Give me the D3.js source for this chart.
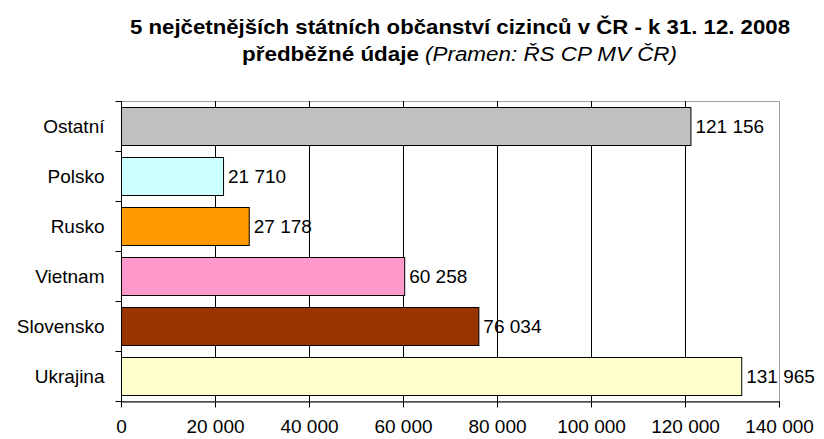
<!DOCTYPE html>
<html>
<head>
<meta charset="utf-8">
<script src="https://cdn.jsdelivr.net/npm/d3@7"></script>
<style>
  body { margin: 0; background: #fff; }
  svg text { font-family: "Liberation Sans", Arial, sans-serif; }
</style>
</head>
<body>
<div id="chart"></div>
<script>
// data, top to bottom as drawn
const categories = ["Ostatní", "Polsko", "Rusko", "Vietnam", "Slovensko", "Ukrajina"];
const values = [121156, 21710, 27178, 60258, 76034, 131965];
const colors = ["#c0c0c0", "#ccffff", "#ff9900", "#ff99cc", "#993300", "#ffffcc"];
const ticks = [0, 20000, 40000, 60000, 80000, 100000, 120000, 140000];

const data = categories.map((c, i) => ({ key: c, value: values[i], color: colors[i] }));

const width = 824, height = 439;
const margin = { top: 101, right: 45, bottom: 38, left: 121 };

const fmt = v => d3.format(",")(v).replace(/,/g, " ");

const svg = d3.select("#chart").append("svg")
    .attr("width", width)
    .attr("height", height);

const x = d3.scaleLinear()
    .domain([0, 140000])
    .range([margin.left, width - margin.right]);

const y = d3.scaleBand()
    .domain(categories)
    .range([margin.top, height - margin.bottom])
    .paddingInner(0.24)
    .paddingOuter(0.12);

// title (condensed bold, squeezed with textLength)
svg.append("text")
    .attr("x", 130).attr("y", 34)
    .attr("textLength", 660)
    .attr("lengthAdjust", "spacingAndGlyphs")
    .style("font-weight", "bold")
    .style("font-size", "21px")
    .text("5 nejčetnějších státních občanství cizinců v ČR - k 31. 12. 2008");
svg.append("text")
    .attr("x", 242).attr("y", 61)
    .attr("textLength", 177)
    .attr("lengthAdjust", "spacingAndGlyphs")
    .style("font-weight", "bold")
    .style("font-size", "21px")
    .text("předběžné údaje");
svg.append("text")
    .attr("x", 425).attr("y", 61)
    .attr("textLength", 252)
    .attr("lengthAdjust", "spacingAndGlyphs")
    .style("font-style", "italic")
    .style("font-size", "20px")
    .text("(Pramen: ŘS CP MV ČR)");

// plot border
svg.append("rect")
    .attr("x", margin.left + 0.5).attr("y", margin.top + 0.5)
    .attr("width", x(140000) - margin.left)
    .attr("height", height - margin.bottom - margin.top)
    .attr("fill", "none")
    .attr("stroke", "#a0a0a0");

// vertical gridlines
svg.append("g")
    .selectAll("line")
    .data(ticks.slice(1, -1))
    .enter()
    .append("line")
    .attr("x1", d => Math.round(x(d)) + 0.5)
    .attr("x2", d => Math.round(x(d)) + 0.5)
    .attr("y1", margin.top)
    .attr("y2", height - margin.bottom)
    .attr("stroke", "#000");

// bars
svg.append("g")
    .selectAll("rect")
    .data(data)
    .enter()
    .append("rect")
    .attr("x", x(0) + 0.5)
    .attr("y", d => Math.round(y(d.key)) + 0.5)
    .attr("width", d => x(d.value) - x(0))
    .attr("height", Math.round(y.bandwidth()))
    .attr("fill", d => d.color)
    .attr("stroke", "#000");

// value labels
svg.append("g")
    .selectAll("text")
    .data(data)
    .enter()
    .append("text")
    .attr("x", d => x(d.value) + 5)
    .attr("y", d => y(d.key) + y.bandwidth() / 2)
    .attr("dy", "0.36em")
    .style("font-size", "19px")
    .text(d => fmt(d.value));

// x axis
const xAxis = svg.append("g")
    .attr("transform", `translate(0,${height - margin.bottom + 0.5})`)
    .call(d3.axisBottom(x).tickValues(ticks).tickFormat(fmt).tickSize(6).tickSizeOuter(0));
xAxis.select(".domain").attr("stroke", "#000");
xAxis.selectAll(".tick line").attr("stroke", "#000");
xAxis.selectAll("text")
    .attr("y", 18)
    .style("font-size", "19px")
    .style("font-family", "'Liberation Sans', Arial, sans-serif")
    .attr("fill", "#000");

// y axis: ticks at band boundaries
const yAxis = svg.append("g")
    .attr("transform", `translate(${margin.left + 0.5},0)`);
yAxis.append("line")
    .attr("y1", margin.top).attr("y2", height - margin.bottom)
    .attr("stroke", "#000");
const step = y.step();
yAxis.selectAll("line.tk")
    .data(d3.range(categories.length + 1))
    .enter()
    .append("line")
    .attr("class", "tk")
    .attr("x1", -6).attr("x2", 0)
    .attr("y1", i => Math.round(margin.top + i * step) + 0.5)
    .attr("y2", i => Math.round(margin.top + i * step) + 0.5)
    .attr("stroke", "#000");
yAxis.selectAll("text")
    .data(categories)
    .enter()
    .append("text")
    .attr("x", -17)
    .attr("y", d => y(d) + y.bandwidth() / 2)
    .attr("dy", "0.36em")
    .attr("text-anchor", "end")
    .style("font-size", "19px")
    .text(d => d);
</script>
</body>
</html>
